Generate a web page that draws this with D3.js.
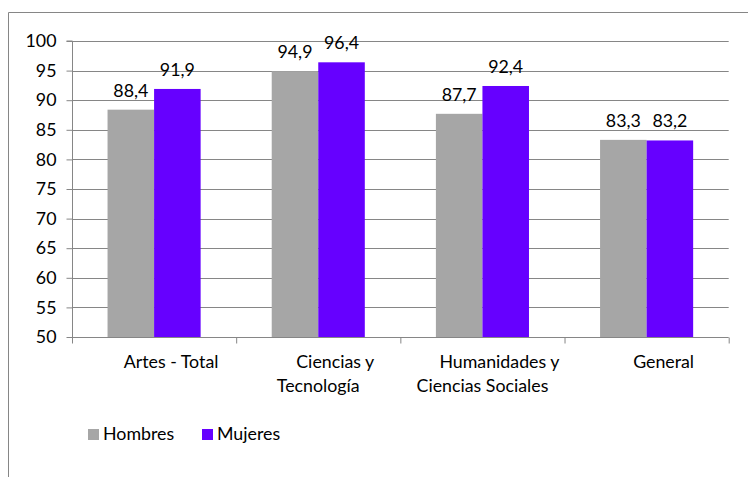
<!DOCTYPE html>
<html><head><meta charset="utf-8">
<script src="https://cdn.jsdelivr.net/npm/d3@7"></script>
<style>body{margin:0;background:#fff}svg{display:block}text{font-family:Lato,"Noto Sans",sans-serif;fill:#000}</style>
</head><body><svg id="c" width="748" height="477"></svg>
<script>
const categories = [["Artes - Total"], ["Ciencias y", "Tecnología"], ["Humanidades y", "Ciencias Sociales"], ["General"]];
const series = ["Hombres", "Mujeres"];
const hombres = [88.4, 94.9, 87.7, 83.3];
const mujeres = [91.9, 96.4, 92.4, 83.2];
const yTicks = [50, 55, 60, 65, 70, 75, 80, 85, 90, 95, 100];
const colors = ["#A6A6A6", "#6600FF"];

(function () {
const svg = d3.select("#c");
const fs = 17.8;
svg.append("path").attr("d", "M8.5,477V12.5H748").attr("fill", "none").attr("stroke", "#868686").attr("stroke-width", 1);

const pl = 72, pr = 728.7, pt = 41, pb = 337;
const idx = categories.map((d, i) => i);
const x0 = d3.scaleBand().domain(idx).range([pl, pr]).paddingInner(0.433).paddingOuter(0.2165);
const x1 = d3.scaleBand().domain([0, 1]).range([0, x0.bandwidth()]);
const y = d3.scaleLinear().domain([50, 100]).range([pb, pt]);

svg.append("g").selectAll("line").data(yTicks.slice(1)).join("line")
  .attr("x1", pl).attr("x2", pr).attr("y1", d => Math.round(y(d)) + 0.5).attr("y2", d => Math.round(y(d)) + 0.5)
  .attr("stroke", "#868686").attr("stroke-width", 1);

const vals = [hombres, mujeres];
const g = svg.append("g");
vals.forEach((arr, s) => {
  g.selectAll(null).data(arr).join("rect")
    .attr("x", (d, i) => x0(i) + x1(s)).attr("width", x1.bandwidth())
    .attr("y", d => y(d)).attr("height", d => y(50) - y(d))
    .attr("fill", colors[s]);
  g.selectAll(null).data(arr).join("text")
    .attr("x", (d, i) => x0(i) + x1(s) + x1.bandwidth() / 2)
    .attr("y", d => y(d) - 13)
    .attr("text-anchor", "middle").attr("font-size", fs)
    .text(d => d.toFixed(1).replace(".", ","));
});

const yAxis = svg.append("g").attr("transform", `translate(${pl + 0.5},0)`)
  .call(d3.axisLeft(y).tickValues(yTicks).tickSize(6).tickPadding(10).tickFormat(d3.format("d")));
yAxis.select(".domain").attr("stroke", "#868686").attr("d", `M-6,${pt}H0V${pb + 0.5}`);
yAxis.selectAll(".tick line").attr("stroke", "#868686");
yAxis.selectAll(".tick text").attr("font-size", fs).attr("font-family", "Lato").attr("fill", "#000");

const xb = d3.scaleLinear().domain([0, categories.length]).range([pl, pr]);
const xAxis = svg.append("g").attr("transform", `translate(0,${pb + 0.5})`)
  .call(d3.axisBottom(xb).tickValues(d3.range(categories.length + 1)).tickSize(6).tickFormat(""));
xAxis.select(".domain").attr("stroke", "#868686").attr("d", `M${pl},0H${pr}`);
xAxis.selectAll(".tick line").attr("stroke", "#868686");

const labels = svg.append("g");
categories.forEach((lines, i) => {
  const cx = x0(i) + x0.bandwidth() / 2;
  lines.forEach((t, j) => {
    labels.append("text").attr("x", cx + (j === 0 ? 17 : 0)).attr("y", 368 + j * 24)
      .attr("text-anchor", "middle").attr("font-size", fs).text(t);
  });
});

const leg = svg.append("g");
const legX = [88, 202];
series.forEach((s, i) => {
  leg.append("rect").attr("x", legX[i]).attr("y", 429).attr("width", 11).attr("height", 11).attr("fill", colors[i]);
  leg.append("text").attr("x", legX[i] + 15).attr("y", 440).attr("font-size", fs).text(s);
});
})();
</script></body></html>
